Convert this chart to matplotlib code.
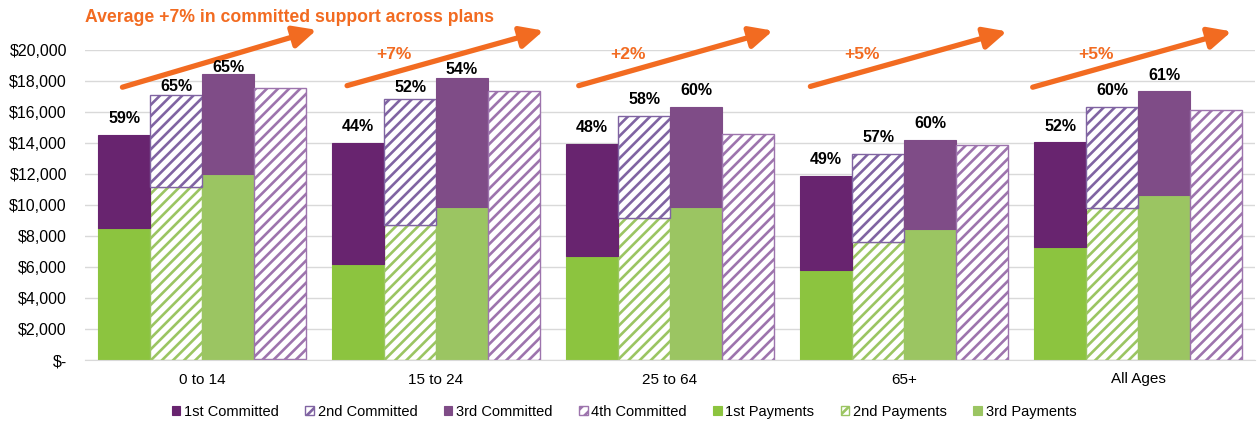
import numpy as np
import matplotlib.pyplot as plt

plt.rcParams['font.family'] = ['Liberation Sans', 'DejaVu Sans']
plt.rcParams['hatch.linewidth'] = 1.9

# data
groups = ['0 to 14', '15 to 24', '25 to 64', '65+', 'All Ages']
committed_1 = [14500, 14000, 13950, 11850, 14050]
committed_2 = [17100, 16850, 15750, 13300, 16300]
committed_3 = [18450, 18200, 16300, 14200, 17350]
committed_4 = [17550, 17350, 14600, 13850, 16150]
payments_1 = [8500, 6200, 6700, 5800, 7300]
payments_2 = [11150, 8700, 9150, 7600, 9800]
payments_3 = [12000, 9850, 9850, 8450, 10650]
payments_4 = [60, 0, 0, 0, 0]
pct_1 = ['59%', '44%', '48%', '49%', '52%']
pct_2 = ['65%', '52%', '58%', '57%', '60%']
pct_3 = ['65%', '54%', '60%', '60%', '61%']
growth = ['', '+7%', '+2%', '+5%', '+5%']
title = 'Average +7% in committed support across plans'

orange = '#F26B21'
dark_purple = '#68246F'
mid_purple = '#7F4C87'
hatch_purple = '#8064A2'
light_purple = '#9D74AD'
green = '#8CC43F'
light_green = '#9BC562'

fig = plt.figure(figsize=(12.58, 4.24), dpi=100)
ax = fig.add_axes([85 / 1258, 64 / 424, 1170 / 1258, 310 / 424])

x = np.arange(len(groups))
w = 0.222
offs = [-1.5 * w, -0.5 * w, 0.5 * w, 1.5 * w]

c1 = np.array(committed_1)
c2 = np.array(committed_2)
c3 = np.array(committed_3)
c4 = np.array(committed_4)
p1 = np.array(payments_1)
p2 = np.array(payments_2)
p3 = np.array(payments_3)
p4 = np.array(payments_4)

# payments at the bottom
b_p1 = ax.bar(x + offs[0], p1, w, color=green, edgecolor=green, lw=0.8, zorder=2)
b_p2 = ax.bar(x + offs[1], p2, w, facecolor='white', edgecolor=light_green,
              hatch='///', lw=1, zorder=2)
b_p3 = ax.bar(x + offs[2], p3, w, color=light_green, edgecolor=light_green, lw=0.8, zorder=2)
ax.bar(x + offs[3], p4, w, color=orange, edgecolor=orange, lw=0.5, zorder=2)

# committed on top of payments
b_c1 = ax.bar(x + offs[0], c1 - p1, w, bottom=p1, color=dark_purple,
              edgecolor=dark_purple, lw=0.8, zorder=2)
b_c2 = ax.bar(x + offs[1], c2 - p2, w, bottom=p2, facecolor='white',
              edgecolor=hatch_purple, hatch='///', lw=1, zorder=2)
b_c3 = ax.bar(x + offs[2], c3 - p3, w, bottom=p3, color=mid_purple,
              edgecolor=mid_purple, lw=0.8, zorder=2)
b_c4 = ax.bar(x + offs[3], c4 - p4, w, bottom=p4, facecolor='white',
              edgecolor=light_purple, hatch='///', lw=1, zorder=2)

# percentage labels (a few moved down to clear the arrows)
lift_1 = [12, 12, 12, 12, 11]
lift_2 = [6, 8, 12, 12, 12]
lift_3 = [5, 6, 12, 12, 11]
for i in range(len(groups)):
    for k, tops, labs, lift in [(0, c1, pct_1, lift_1), (1, c2, pct_2, lift_2),
                                (2, c3, pct_3, lift_3)]:
        ax.annotate(labs[i], (x[i] + offs[k], tops[i]), xytext=(0, lift[i]),
                    textcoords='offset points', ha='center', va='center',
                    fontsize=11.5, fontweight='bold', color='black', zorder=4)

# growth arrows
arrow_start = [(-0.34, 17600), (0.62, 17700), (1.61, 17700), (2.60, 17650), (3.55, 17600)]
arrow_end = [(0.49, 21300), (1.46, 21250), (2.44, 21250), (3.44, 21200), (4.40, 21200)]
for i in range(len(groups)):
    ax.annotate('', xy=arrow_end[i], xytext=arrow_start[i], annotation_clip=False,
                arrowprops=dict(arrowstyle='-|>,head_length=1.15,head_width=0.55',
                                mutation_scale=12, lw=3.8, color=orange,
                                shrinkA=0, shrinkB=0))
    if growth[i]:
        ax.text(x[i] - 0.18, 19700, growth[i], ha='center', va='center',
                fontsize=12.5, fontweight='bold', color=orange, clip_on=False)

fig.text(85 / 1258, 1 - 17 / 424, title, ha='left', va='center',
         fontsize=12.7, fontweight='bold', color=orange)

ax.set_xlim(-0.5, 4.5)
ax.set_ylim(0, 20000)
yt = np.arange(0, 20001, 2000)
ax.set_yticks(yt)
ax.set_yticklabels(['$-' if v == 0 else '${:,}'.format(v) for v in yt], fontsize=11.5)
ax.set_xticks(x)
ax.set_xticklabels(groups, fontsize=11)
ax.tick_params(length=0)
ax.tick_params(axis='y', pad=13)
ax.tick_params(axis='x', pad=9)
ax.grid(axis='y', color='#D9D9D9', lw=1, zorder=0)
ax.set_axisbelow(True)
for s in ['top', 'right', 'left']:
    ax.spines[s].set_visible(False)
ax.spines['bottom'].set_color('#D9D9D9')

handles = [b_c1, b_c2, b_c3, b_c4, b_p1, b_p2, b_p3]
labels = ['1st Committed', '2nd Committed', '3rd Committed', '4th Committed',
          '1st Payments', '2nd Payments', '3rd Payments']
fig.legend(handles, labels, loc='center', bbox_to_anchor=(624 / 1258, 12 / 424),
           ncol=7, frameon=False, fontsize=10.5, handlelength=0.6, handleheight=0.6,
           handletextpad=0.25, columnspacing=1.8)

fig.savefig('out.png', dpi=100)
